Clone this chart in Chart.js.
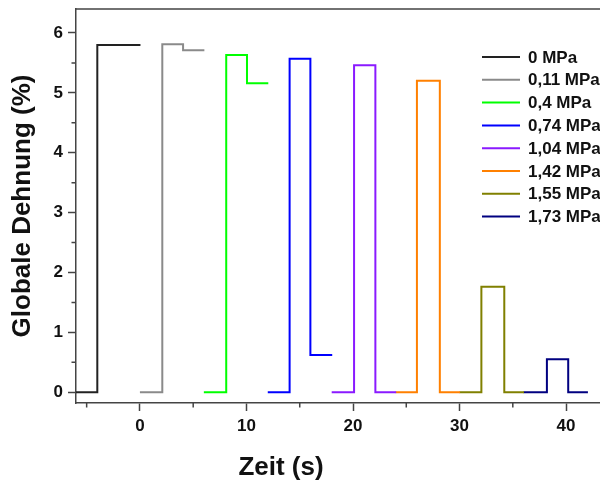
<!DOCTYPE html>
<html lang="de">
<head>
  <meta charset="UTF-8">
  <title>Globale Dehnung</title>
  <style>
    body {
      margin: 0;
      padding: 0;
      background: #ffffff;
      overflow: hidden;
    }
    .wrap {
      width: 640px;
      height: 480px;
    }
  </style>
</head>
<body>
  <div class="wrap">
    <canvas id="dehnungChart" width="640" height="480"></canvas>
  </div>

  <script src="https://cdn.jsdelivr.net/npm/chart.js"></script>
  <script>
    // Druckstufen (Legende)
    const labels = ['0 MPa', '0,11 MPa', '0,4 MPa', '0,74 MPa', '1,04 MPa', '1,42 MPa', '1,55 MPa', '1,73 MPa'];
    const colors = ['#222222', '#8a8a8a', '#00ff00', '#0000ff', '#8a1aff', '#ff8000', '#808000', '#000080'];

    // Zeit (s) und Dehnung (%) je Messreihe
    const t0 = [-6, -4, -4, 0.05];
    const y0 = [0, 0, 5.8, 5.8];
    const t1 = [0, 2.1, 2.1, 4.05, 4.05, 6.05];
    const y1 = [0, 0, 5.81, 5.81, 5.71, 5.71];
    const t2 = [6, 8.1, 8.1, 10.05, 10.05, 12.05];
    const y2 = [0, 0, 5.63, 5.63, 5.16, 5.16];
    const t3 = [12, 14.05, 14.05, 16.0, 16.0, 18.05];
    const y3 = [0, 0, 5.57, 5.57, 0.62, 0.62];
    const t4 = [18, 20.1, 20.1, 22.1, 22.1, 24.05];
    const y4 = [0, 0, 5.46, 5.46, 0, 0];
    const t5 = [24, 26, 26, 28.15, 28.15, 30.05];
    const y5 = [0, 0, 5.2, 5.2, 0, 0];
    const t6 = [30, 32.05, 32.05, 34.2, 34.2, 36.05];
    const y6 = [0, 0, 1.76, 1.76, 0, 0];
    const t7 = [36, 38.2, 38.2, 40.2, 40.2, 42.05];
    const y7 = [0, 0, 0.55, 0.55, 0, 0];

    const times = [t0, t1, t2, t3, t4, t5, t6, t7];
    const values = [y0, y1, y2, y3, y4, y5, y6, y7];

    const xTitle = 'Zeit (s)';
    const yTitle = 'Globale Dehnung (%)';

    const fontFamily = '"Liberation Sans", Arial, sans-serif';
    const axisColor = '#444444';

    const datasets = labels.map((label, i) => ({
      label: label,
      data: times[i].map((t, k) => ({ x: t, y: values[i][k] })),
      borderColor: colors[i],
      backgroundColor: colors[i],
      borderWidth: 2,
      pointRadius: 0,
      tension: 0,
      fill: false
    }));

    // Rahmen oben/rechts, Nebenstriche, x-Titel und Legende im Diagramm
    const extras = {
      id: 'extras',
      afterDraw(chart) {
        const ctx = chart.ctx;
        const area = chart.chartArea;
        const xs = chart.scales.x;
        const ys = chart.scales.y;
        ctx.save();
        ctx.strokeStyle = axisColor;
        ctx.lineWidth = 1.5;
        ctx.beginPath();
        ctx.moveTo(area.left, area.top);
        ctx.lineTo(area.right, area.top);
        ctx.lineTo(area.right, area.bottom);
        ctx.stroke();

        // minor ticks
        ctx.beginPath();
        for (let v = -5; v <= 45; v += 10) {
          const px = xs.getPixelForValue(v);
          ctx.moveTo(px, area.bottom);
          ctx.lineTo(px, area.bottom + 4.5);
        }
        for (let v = 0.5; v < 6.4; v += 1) {
          const py = ys.getPixelForValue(v);
          ctx.moveTo(area.left, py);
          ctx.lineTo(area.left - 4.5, py);
        }
        ctx.stroke();

        // x title
        ctx.fillStyle = '#111111';
        ctx.font = 'bold 26px ' + fontFamily;
        ctx.textAlign = 'center';
        ctx.textBaseline = 'middle';
        ctx.fillText(xTitle, 281, 468);

        // legend
        ctx.font = 'bold 17px ' + fontFamily;
        ctx.textAlign = 'left';
        chart.data.datasets.forEach((ds, i) => {
          const ly = 57 + i * 22.8;
          ctx.strokeStyle = ds.borderColor;
          ctx.lineWidth = 2;
          ctx.beginPath();
          ctx.moveTo(482, ly);
          ctx.lineTo(520, ly);
          ctx.stroke();
          ctx.fillText(ds.label, 528, ly + 1);
        });
        ctx.restore();
      }
    };

    const ctx = document.getElementById('dehnungChart').getContext('2d');
    new Chart(ctx, {
      type: 'line',
      data: { datasets: datasets },
      options: {
        responsive: false,
        animation: false,
        devicePixelRatio: 1,
        layout: { padding: { top: 9, right: 10, left: 0, bottom: 0 } },
        plugins: {
          legend: { display: false },
          tooltip: { enabled: false }
        },
        scales: {
          x: {
            type: 'linear',
            min: -6,
            max: 46,
            afterFit: scale => {
              scale.height = 77;
              scale.paddingLeft = 0;
              scale.paddingRight = 0;
            },
            ticks: {
              stepSize: 10,
              includeBounds: false,
              padding: 5,
              color: '#111111',
              font: { family: fontFamily, size: 17, weight: 'bold' }
            },
            grid: {
              drawOnChartArea: false,
              drawTicks: true,
              tickLength: 8,
              tickColor: axisColor,
              tickWidth: 1.5
            },
            border: { display: true, color: axisColor, width: 1.5 }
          },
          y: {
            min: -0.18,
            max: 6.4,
            afterFit: scale => {
              scale.width = 76;
              scale.paddingTop = 0;
              scale.paddingBottom = 0;
            },
            ticks: {
              stepSize: 1,
              includeBounds: false,
              padding: 5,
              color: '#111111',
              font: { family: fontFamily, size: 17, weight: 'bold' }
            },
            grid: {
              drawOnChartArea: false,
              drawTicks: true,
              tickLength: 8,
              tickColor: axisColor,
              tickWidth: 1.5
            },
            border: { display: true, color: axisColor, width: 1.5 },
            title: {
              display: true,
              text: yTitle,
              color: '#111111',
              padding: { top: 7, bottom: 0 },
              font: { family: fontFamily, size: 26, weight: 'bold', lineHeight: 1.2 }
            }
          }
        }
      },
      plugins: [extras]
    });
  </script>
</body>
</html>
